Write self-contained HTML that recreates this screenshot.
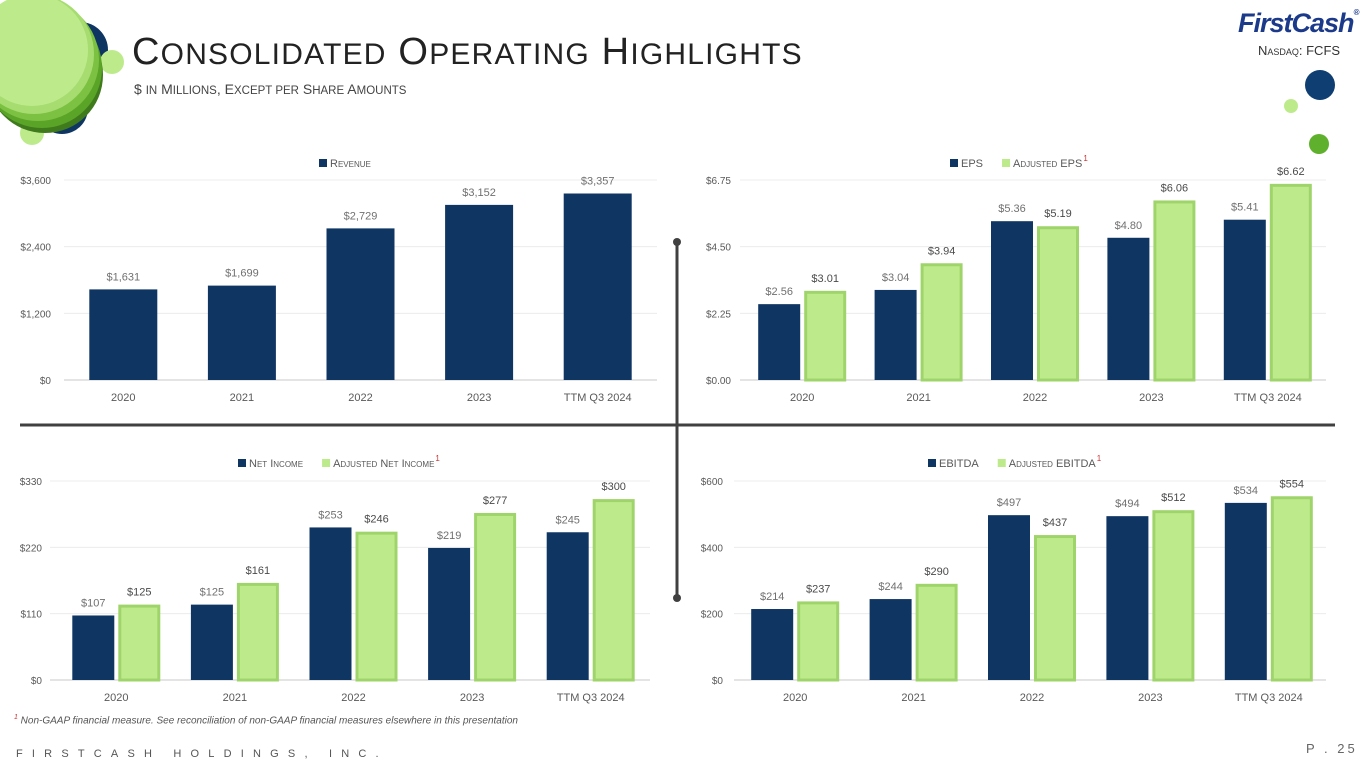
<!DOCTYPE html>
<html><head><meta charset="utf-8">
<style>
html,body{margin:0;padding:0;background:#fff;}
body{width:1365px;height:768px;position:relative;overflow:hidden;font-family:"Liberation Sans",sans-serif;}
.abs{position:absolute;}
#title{left:132px;top:30px;font-size:38px;color:#222;white-space:nowrap;letter-spacing:1.2px;line-height:44px;}
#title .s{font-size:30px;}
#subtitle{left:134px;top:81px;font-size:14px;color:#444;white-space:nowrap;}
#subtitle .s{font-size:11.5px;}
svg text{font-family:"Liberation Sans",sans-serif;}
</style></head>
<body>
<svg class="abs" style="left:0;top:0" width="140" height="150">
  <circle cx="80" cy="50" r="28" fill="#0f3563"/>
  <circle cx="62" cy="108" r="26" fill="#0f3563"/>
  <circle cx="112" cy="62" r="12" fill="#bdeb8c"/>
  <circle cx="32" cy="133" r="12" fill="#bdeb8c"/>
  <circle cx="45" cy="75" r="58" fill="#3f7a1c"/>
  <circle cx="42" cy="68" r="60" fill="#5aa428"/>
  <circle cx="38" cy="60" r="61" fill="#7cc142"/>
  <circle cx="34" cy="54" r="60" fill="#a6dc70"/>
  <circle cx="32" cy="50" r="56" fill="#bdeb8c"/>
</svg>
<div id="title" class="abs">C<span class="s">ONSOLIDATED</span> O<span class="s">PERATING</span> H<span class="s">IGHLIGHTS</span></div>
<div id="subtitle" class="abs">$ <span class="s">IN</span> M<span class="s">ILLIONS</span>, E<span class="s">XCEPT PER</span> S<span class="s">HARE</span> A<span class="s">MOUNTS</span></div>

<div class="abs" style="left:1238px;top:8px;font-size:27px;font-weight:bold;font-style:italic;color:#1c3a8a;letter-spacing:-1px;">FirstCash<span style="font-size:8px;vertical-align:top;">®</span></div>
<div class="abs" style="left:1258px;top:43px;font-size:13px;color:#333;font-variant:small-caps;">Nasdaq: FCFS</div>
<svg class="abs" style="left:1270px;top:60px" width="95" height="100">
  <circle cx="50" cy="25" r="15" fill="#0f3e72"/>
  <circle cx="21" cy="46" r="7" fill="#bdeb8c"/>
  <circle cx="49" cy="84" r="10" fill="#5fb02c"/>
</svg>

<svg id="charts" class="abs" style="left:0;top:0" width="1365" height="768">
  <line x1="20" y1="425" x2="1335" y2="425" stroke="#404040" stroke-width="3"/>
  <line x1="677" y1="242" x2="677" y2="598" stroke="#404040" stroke-width="3"/>
  <circle cx="677" cy="242" r="4" fill="#404040"/>
  <circle cx="677" cy="598" r="4" fill="#404040"/>
</svg>

<div class="abs" style="left:14px;top:714px;font-size:10px;font-style:italic;color:#555;white-space:nowrap;"><sup style="color:#c33;font-size:7px;">1</sup> Non-GAAP financial measure. See reconciliation of non-GAAP financial measures elsewhere in this presentation</div>
<div class="abs" style="left:16px;top:748px;font-size:11px;color:#555;letter-spacing:9.2px;white-space:nowrap;">FIRSTCASH HOLDINGS, INC.</div>
<div class="abs" style="left:1306px;top:741px;font-size:13px;color:#666;letter-spacing:3px;">P . 25</div>

<script>
const years = ["2020","2021","2022","2023","TTM Q3 2024"];
const revenue = [1631,1699,2729,3152,3357];
const revenueLabels = ["$1,631","$1,699","$2,729","$3,152","$3,357"];
const revenueTicks = [0,1200,2400,3600];
const revenueTickLabels = ["$0","$1,200","$2,400","$3,600"];
const eps = [2.56,3.04,5.36,4.80,5.41];
const adjEps = [3.01,3.94,5.19,6.06,6.62];
const epsTicks = [0,2.25,4.5,6.75];
const epsTickLabels = ["$0.00","$2.25","$4.50","$6.75"];
const netIncome = [107,125,253,219,245];
const adjNetIncome = [125,161,246,277,300];
const niTicks = [0,110,220,330];
const niTickLabels = ["$0","$110","$220","$330"];
const ebitda = [214,244,497,494,534];
const adjEbitda = [237,290,437,512,554];
const ebTicks = [0,200,400,600];
const ebTickLabels = ["$0","$200","$400","$600"];

const NS = "http://www.w3.org/2000/svg";
const svg = document.getElementById("charts");
function mk(tag, attrs, parent){
  const e = document.createElementNS(NS, tag);
  for (const k in attrs) e.setAttribute(k, attrs[k]);
  (parent||svg).appendChild(e);
  return e;
}
function money(v, dec){ return "$" + v.toFixed(dec).replace(/\B(?=(\d{3})+(?!\d))/g, ","); }

function drawChart(cfg){
  const g = mk("g", {});
  
  
  const y = v => cfg.y0 - (v - cfg.ticks[0]) / (cfg.ticks[cfg.ticks.length-1] - cfg.ticks[0]) * (cfg.y0 - cfg.y1);
  const band = (cfg.x1 - cfg.x0) / years.length;
  const cx = i => cfg.x0 + band * (i + 0.5);
  cfg.ticks.forEach((t, i) => {
    const gl = mk("line", {x1:cfg.gx0, x2:cfg.gx1, y1:y(t), y2:y(t), stroke: i===0 ? "#c8c8c8" : "#ececec", "stroke-width":1}, g);
    
    
    const tl = mk("text", {x:cfg.labelX, y:y(t)+4, "text-anchor":"end", "font-size":10, fill:"#595959"}, g);
    tl.textContent = cfg.tickLabels[i];
    
    
  });
  years.forEach((yr, i) => {
    const xl = mk("text", {x:cx(i), y:cfg.y0+21, "text-anchor":"middle", "font-size":11, fill:"#595959"}, g);
    xl.textContent = yr;
    
    
  });
  const series = cfg.series;
  const n = series.length;
  const bw = n === 1 ? 68 : 42, gap = 4;
  series.forEach((s, si) => {
    s.values.forEach((v, i) => {
      const left = cx(i) - (n*bw + (n-1)*gap)/2 + si*(bw+gap);
      const top = y(v);
      let r;
      if (s.adj) {
        r = mk("rect", {x:left+1.5, y:top+1.5, width:bw-3, height:cfg.y0-top-1.5, fill:"#bdeb8c", stroke:"#9fd46b", "stroke-width":3}, g);
      } else {
        r = mk("rect", {x:left, y:top, width:bw, height:cfg.y0-top, fill:"#0f3563"}, g);
      }
      
      
      const vl = mk("text", {x:left+bw/2, y:top-9, "text-anchor":"middle", "font-size":11, fill: s.adj ? "#4a4a4a" : "#707070"}, g);
      vl.textContent = s.labels ? s.labels[i] : money(v, cfg.dec);
      
      
    });
  });
  let lx = cfg.legendX;
  series.forEach((s) => {
    const sw = mk("rect", {x:lx, y:cfg.legendY-8, width:8, height:8, fill: s.adj ? "#bdeb8c" : "#0f3563"}, g);
    
    
    const lt = mk("text", {x:lx+11, y:cfg.legendY, "font-size":11, fill:"#595959", "font-variant":"small-caps"}, g);
    lt.textContent = s.legend;
    
    
    const w = lt.getComputedTextLength();
    if (s.adj) {
      const sup = mk("text", {x:lx+12+w, y:cfg.legendY-6, "font-size":8, fill:"#c33"}, g);
      sup.textContent = "1";
      
      
    }
    lx += w + 30;
  });
}

drawChart({name:"revenue-chart", x0:64, x1:657, gx0:64, gx1:657, y0:380, y1:180, labelX:51, ticks:revenueTicks, tickLabels:revenueTickLabels, dec:0, legendX:319, legendY:167,
  series:[{key:"revenue", values:revenue, labels:revenueLabels, legend:"Revenue", adj:false}]});
drawChart({name:"eps-chart", x0:744, x1:1326, gx0:740, gx1:1326, y0:380, y1:180, labelX:731, ticks:epsTicks, tickLabels:epsTickLabels, dec:2, legendX:950, legendY:167,
  series:[{key:"eps", values:eps, legend:"EPS", adj:false},{key:"adjusted-eps", values:adjEps, legend:"Adjusted EPS", adj:true}]});
drawChart({name:"net-income-chart", x0:57, x1:650, gx0:50, gx1:650, y0:680, y1:481, labelX:42, ticks:niTicks, tickLabels:niTickLabels, dec:0, legendX:238, legendY:467,
  series:[{key:"net-income", values:netIncome, legend:"Net Income", adj:false},{key:"adjusted-net-income", values:adjNetIncome, legend:"Adjusted Net Income", adj:true}]});
drawChart({name:"ebitda-chart", x0:736, x1:1328, gx0:734, gx1:1326, y0:680, y1:481, labelX:723, ticks:ebTicks, tickLabels:ebTickLabels, dec:0, legendX:928, legendY:467,
  series:[{key:"ebitda", values:ebitda, legend:"EBITDA", adj:false},{key:"adjusted-ebitda", values:adjEbitda, legend:"Adjusted EBITDA", adj:true}]});
</script>
</body></html>
